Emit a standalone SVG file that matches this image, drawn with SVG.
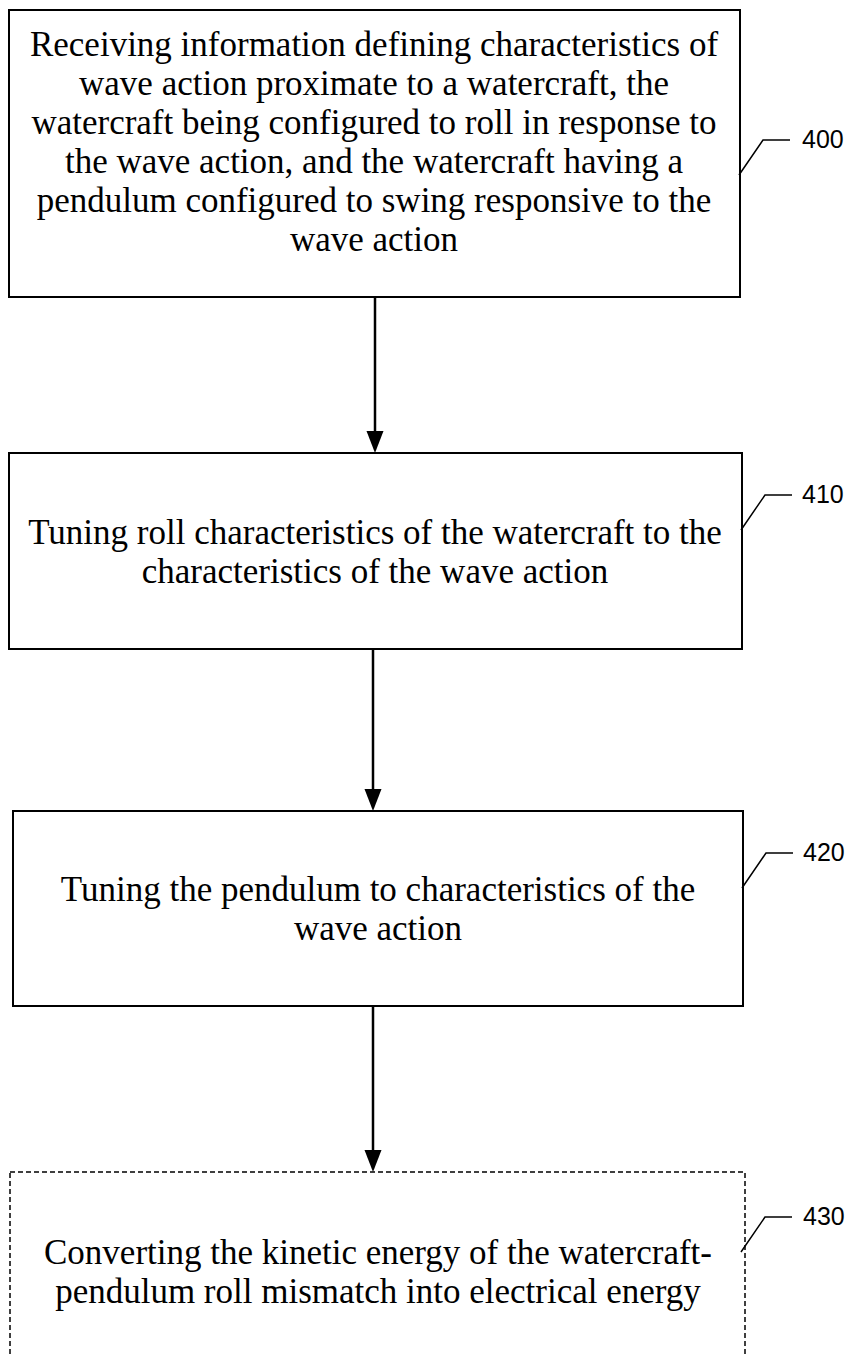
<svg xmlns="http://www.w3.org/2000/svg" width="858" height="1355" viewBox="0 0 858 1355">
<style>
.box{fill:#fff;stroke:#000;stroke-width:2}
.dash{fill:#fff;stroke:#000;stroke-width:1.5;stroke-dasharray:5 3}
.t{font-family:"Liberation Serif","Times New Roman",serif;font-size:35px;text-anchor:middle;fill:#000}
.lbl{font-family:"Liberation Sans",Arial,sans-serif;font-size:25px;fill:#000}
.ld{fill:none;stroke:#000;stroke-width:1.5}
.ar{stroke:#000;stroke-width:2.5;fill:none}
.hd{fill:#000}
</style>
<g id="connectors">
<line class="ar" x1="375" y1="297" x2="375" y2="435"/>
<path class="hd" d="M366.5,431 L383.5,431 L375,453 Z"/>
<line class="ar" x1="373" y1="649" x2="373" y2="793"/>
<path class="hd" d="M364.5,789 L381.5,789 L373,811 Z"/>
<line class="ar" x1="373" y1="1006" x2="373" y2="1154"/>
<path class="hd" d="M364.5,1150 L381.5,1150 L373,1172 Z"/>
</g>
<g id="n400">
<rect class="box" x="9" y="10" width="731" height="287"/>
<text class="t" x="374" y="56">Receiving information defining characteristics of</text>
<text class="t" x="374" y="95">wave action proximate to a watercraft, the</text>
<text class="t" x="374" y="134">watercraft being configured to roll in response to</text>
<text class="t" x="374" y="173">the wave action, and the watercraft having a</text>
<text class="t" x="374" y="212">pendulum configured to swing responsive to the</text>
<text class="t" x="374" y="251">wave action</text>
<polyline class="ld" points="739,175 763,140 790,140"/>
<text class="lbl" x="802" y="148">400</text>
</g>
<g id="n410">
<rect class="box" x="9" y="453" width="733" height="196"/>
<text class="t" x="375" y="544">Tuning roll characteristics of the watercraft to the</text>
<text class="t" x="375" y="583">characteristics of the wave action</text>
<polyline class="ld" points="741,530 765,495 792,495"/>
<text class="lbl" x="802" y="503">410</text>
</g>
<g id="n420">
<rect class="box" x="13" y="811" width="730" height="195"/>
<text class="t" x="378" y="901">Tuning the pendulum to characteristics of the</text>
<text class="t" x="378" y="940">wave action</text>
<polyline class="ld" points="742,888 766,853 793,853"/>
<text class="lbl" x="803" y="861">420</text>
</g>
<g id="n430">
<rect class="dash" x="10" y="1172" width="735" height="200"/>
<text class="t" x="378" y="1264">Converting the kinetic energy of the watercraft-</text>
<text class="t" x="378" y="1303">pendulum roll mismatch into electrical energy</text>
<polyline class="ld" points="741,1252 765,1217 792,1217"/>
<text class="lbl" x="803" y="1225">430</text>
</g>
</svg>
